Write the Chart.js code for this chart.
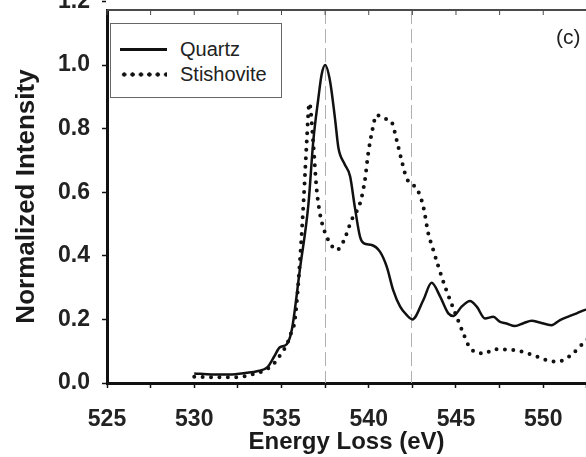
<!DOCTYPE html>
<html>
<head>
<meta charset="utf-8">
<script src="https://cdn.jsdelivr.net/npm/chart.js@4"></script>
<style>
  body { margin: 0; overflow: hidden; background: #fff; }
  #wrap { position: relative; width: 586px; height: 457px; }
  #legenda {
    position: absolute; left: 110px; top: 23px; width: 170px; height: 73px;
    border: 1.5px solid #666; background: #fff;
    font-family: "Liberation Sans", Arial, sans-serif; font-size: 20px; color: #222;
  }
  .item { position: absolute; left: 0; height: 24px; }
  .amostra { position: absolute; left: 9px; width: 47px; }
  .texto { position: absolute; left: 69px; top: 0; line-height: 24px; white-space: nowrap; }
  #painel {
    position: absolute; left: 556px; top: 26px;
    font-family: "Liberation Sans", Arial, sans-serif; font-size: 21px; line-height: 1; color: #222;
  }
</style>
</head>
<body>
<div id="wrap">
  <canvas id="grafico" width="586" height="457"></canvas>
  <div id="legenda"></div>
  <div id="painel">(c)</div>
</div>
<script>
// energias (eV) e intensidades
var energiaQuartz = [530, 531, 532, 533, 533.6, 534.2, 534.6, 534.9, 535.3, 535.6, 536.06, 536.54, 536.82, 537.1, 537.3, 537.5, 537.78, 538.07, 538.26, 538.6, 538.93, 539.2, 539.5, 539.7, 540.17, 540.64, 541.03, 541.4, 541.8, 542.17, 542.5, 543.13, 543.6, 544.1, 544.56, 544.85, 545.32, 545.8, 546.19, 546.66, 547.14, 547.5, 547.9, 548.38, 548.86, 549.34, 549.8, 550.48, 550.96, 551.53, 551.92, 552.4, 552.8];
var intensQuartz = [0.03, 0.027, 0.027, 0.032, 0.037, 0.05, 0.085, 0.112, 0.122, 0.17, 0.36, 0.56, 0.76, 0.89, 0.97, 1.0, 0.95, 0.83, 0.74, 0.69, 0.65, 0.554, 0.46, 0.44, 0.434, 0.413, 0.366, 0.292, 0.24, 0.214, 0.2, 0.261, 0.315, 0.271, 0.219, 0.211, 0.24, 0.258, 0.24, 0.203, 0.208, 0.193, 0.187, 0.179, 0.188, 0.196, 0.19, 0.182, 0.198, 0.211, 0.219, 0.23, 0.232];

var energiaStish = [530, 531, 532, 533, 533.5, 534.05, 534.6, 535.0, 535.3, 535.5, 535.77, 536.06, 536.29, 536.44, 536.6, 536.82, 537.0, 537.2, 537.44, 537.78, 538.16, 538.54, 539.02, 539.5, 539.78, 539.97, 540.17, 540.45, 540.84, 541.3, 541.6, 541.9, 542.17, 542.55, 542.84, 543.13, 543.41, 543.7, 543.99, 544.37, 544.66, 545.04, 545.42, 545.7, 546.19, 546.66, 547.14, 547.6, 548.1, 548.57, 548.95, 549.43, 549.9, 550.39, 550.8, 551.25, 551.7, 552.2, 552.6];
var intensStish = [0.02, 0.018, 0.018, 0.022, 0.03, 0.04, 0.063, 0.094, 0.12, 0.15, 0.2, 0.387, 0.596, 0.754, 0.88, 0.754, 0.617, 0.534, 0.481, 0.44, 0.418, 0.444, 0.513, 0.565, 0.638, 0.722, 0.785, 0.843, 0.832, 0.822, 0.764, 0.696, 0.644, 0.623, 0.602, 0.554, 0.471, 0.418, 0.366, 0.303, 0.261, 0.208, 0.156, 0.12, 0.095, 0.093, 0.106, 0.106, 0.104, 0.102, 0.095, 0.088, 0.077, 0.069, 0.067, 0.075, 0.093, 0.12, 0.14];

var ticksX = [525, 527.5, 530, 532.5, 535, 537.5, 540, 542.5, 545, 547.5, 550, 552.5];
var ticksY = [0, 0.2, 0.4, 0.6, 0.8, 1.0, 1.2];
var linhasRef = [537.5, 542.4];   // linhas tracejadas verticais

var fonte = '"Liberation Sans", Arial, sans-serif';

function pares(xs, ys) {
    return xs.map(function (x, i) { return { x: x, y: ys[i] }; });
}

// sem folga extra para rótulos nas bordas
function semFolga(scale) {
    scale.paddingTop = 0;
    scale.paddingBottom = 0;
    scale.paddingLeft = 0;
    scale.paddingRight = 0;
}

// linhas tracejadas, moldura de cima e marcas internas
var extras = {
    id: 'extras',
    beforeDatasetsDraw: function (chart) {
        var ctx = chart.ctx, area = chart.chartArea, sx = chart.scales.x;
        ctx.save();
        ctx.strokeStyle = '#b0b0b0';
        ctx.lineWidth = 1;
        ctx.setLineDash([14, 5]);
        linhasRef.forEach(function (e) {
            var px = Math.round(sx.getPixelForValue(e)) + 0.5;
            ctx.beginPath();
            ctx.moveTo(px, area.top);
            ctx.lineTo(px, area.bottom);
            ctx.stroke();
        });
        ctx.restore();
    },
    afterDraw: function (chart) {
        var ctx = chart.ctx, area = chart.chartArea, sx = chart.scales.x;
        ctx.save();
        ctx.strokeStyle = '#4a4a4a';
        ctx.lineWidth = 2;
        ctx.beginPath();
        ctx.moveTo(area.left, area.top);
        ctx.lineTo(area.right, area.top);
        ctx.stroke();
        ctx.lineWidth = 1;
        ticksX.forEach(function (e) {
            var px = sx.getPixelForValue(e);
            if (px > area.right) return;
            ctx.beginPath();
            ctx.moveTo(px, area.top);
            ctx.lineTo(px, area.top + 5);
            ctx.stroke();
        });
        ctx.restore();
    }
};

var contexto = document.getElementById('grafico').getContext('2d');

window.meuGrafico = new Chart(contexto, {
    type: 'line',
    data: {
        datasets: [{
            label: 'Quartz',
            data: pares(energiaQuartz, intensQuartz),
            borderColor: '#111',
            borderWidth: 2.5,
            pointRadius: 0,
            cubicInterpolationMode: 'monotone'
        }, {
            label: 'Stishovite',
            data: pares(energiaStish, intensStish),
            borderColor: '#111',
            borderWidth: 4,
            borderDash: [0, 8.4],
            borderCapStyle: 'round',
            pointRadius: 0,
            cubicInterpolationMode: 'monotone'
        }]
    },
    options: {
        responsive: false,
        animation: false,
        layout: { padding: 0 },
        plugins: {
            legend: { display: false },
            tooltip: { enabled: false }
        },
        scales: {
            x: {
                type: 'linear',
                position: 'bottom',
                min: 525,
                max: 552.45,
                afterBuildTicks: function (scale) {
                    scale.ticks = ticksX.map(function (v) { return { value: v }; });
                },
                afterFit: function (scale) { scale.height = 74; semFolga(scale); },
                ticks: {
                    autoSkip: false,
                    maxRotation: 0,
                    padding: 18,
                    color: '#222',
                    font: { family: fonte, size: 23, weight: 'bold' },
                    callback: function (v) { return v % 5 === 0 ? String(v) : ''; }
                },
                grid: { drawOnChartArea: false, drawTicks: true, tickLength: 5, tickWidth: 1.5, tickColor: '#111' },
                border: { color: '#111', width: 3 },
                title: {
                    display: true,
                    text: 'Energy Loss (eV)',
                    color: '#1a1a1a',
                    font: { family: fonte, size: 24, weight: 'bold' },
                    padding: { top: 0, bottom: 0 }
                }
            },
            xTopo: {
                type: 'linear',
                position: 'top',
                min: 525,
                max: 552.45,
                afterFit: function (scale) { scale.height = 10; semFolga(scale); },
                ticks: { display: false },
                grid: { display: true, drawOnChartArea: false, drawTicks: false },
                border: { display: false }
            },
            y: {
                type: 'linear',
                min: 0,
                max: 1.173,
                afterBuildTicks: function (scale) {
                    scale.ticks = ticksY.map(function (v) { return { value: v }; });
                },
                afterFit: function (scale) { scale.width = 107; semFolga(scale); },
                ticks: {
                    autoSkip: false,
                    padding: 12,
                    color: '#222',
                    font: { family: fonte, size: 23, weight: 'bold' },
                    callback: function (v) { return v.toFixed(1); }
                },
                grid: { drawOnChartArea: false, drawTicks: true, tickLength: 5, tickWidth: 1.5, tickColor: '#111' },
                border: { color: '#111', width: 3 },
                title: {
                    display: true,
                    text: 'Normalized Intensity',
                    color: '#1a1a1a',
                    font: { family: fonte, size: 26, weight: 'bold' },
                    padding: { top: 11, bottom: 0 }
                }
            }
        }
    },
    plugins: [extras]
});

// legenda em HTML a partir dos datasets
var legenda = document.getElementById('legenda');
window.meuGrafico.data.datasets.forEach(function (ds, i) {
    var item = document.createElement('div');
    item.className = 'item';
    item.style.top = (13 + i * 25) + 'px';
    item.style.width = '100%';
    var amostra = document.createElement('div');
    amostra.className = 'amostra';
    if (ds.borderDash) {
        amostra.style.top = '10px';
        amostra.style.height = '5px';
        amostra.style.background = 'radial-gradient(circle, #111 1.9px, transparent 2.4px) 0 0 / 8.4px 5px repeat-x';
    } else {
        amostra.style.top = '11px';
        amostra.style.height = '2.5px';
        amostra.style.background = '#111';
    }
    var texto = document.createElement('div');
    texto.className = 'texto';
    texto.textContent = ds.label;
    item.appendChild(amostra);
    item.appendChild(texto);
    legenda.appendChild(item);
});
</script>
</body>
</html>
